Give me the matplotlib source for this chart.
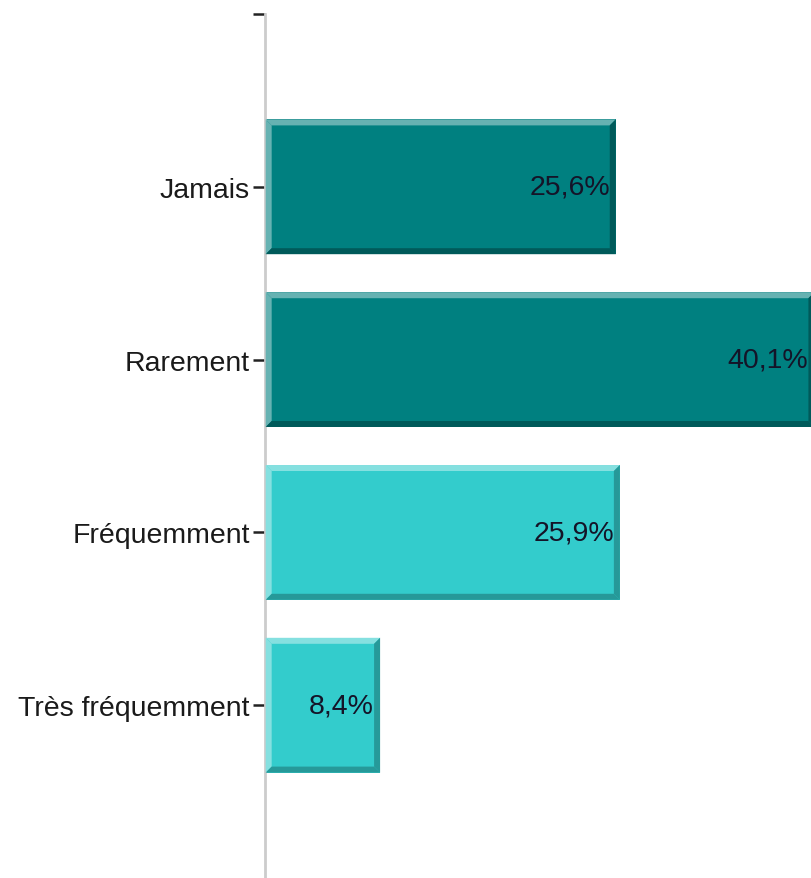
import matplotlib
matplotlib.use("Agg")
import matplotlib.pyplot as plt
from matplotlib.patches import Polygon

categories = ["Jamais", "Rarement", "Fréquemment", "Très fréquemment"]
values = [25.6, 40.1, 25.9, 8.4]
labels = ["25,6%", "40,1%", "25,9%", "8,4%"]

# face, highlight (top/left), shadow (bottom/right)
DARK = ("#008080", "#66b2b2", "#005a5a")
LIGHT = ("#33cccc", "#85e0e0", "#269999")
palette = [DARK, DARK, LIGHT, LIGHT]

plt.rcParams["font.family"] = ["Liberation Sans", "DejaVu Sans"]

W, H = 811, 879
left_px, top_px, plot_h = 265, 15, 864
fig = plt.figure(figsize=(W / 100, H / 100), dpi=100)
ax = fig.add_axes([left_px / W, (H - top_px - plot_h) / H,
                   1 - left_px / W, plot_h / H])

XMAX = 39.85
ax.set_xlim(0, XMAX)
ax.set_ylim(5, 0)

bar_h = 0.78
bev_px = 6
bx = bev_px * XMAX / (W - left_px)
by = bev_px * 5 / plot_h

ypos = list(range(1, len(categories) + 1))
for y, v, lab, (face, hi, sh) in zip(ypos, values, labels, palette):
    x0, x1 = 0.05, v
    y0, y1 = y - bar_h / 2, y + bar_h / 2  # y0 is top (inverted axis)
    ax.barh(y, v - x0, left=x0, height=bar_h, color=face, zorder=2)
    # bevel edges
    ax.add_patch(Polygon([(x0, y0), (x1, y0), (x1 - bx, y0 + by), (x0 + bx, y0 + by)],
                         closed=True, color=hi, lw=0, zorder=3))
    ax.add_patch(Polygon([(x0, y0), (x0 + bx, y0 + by), (x0 + bx, y1 - by), (x0, y1)],
                         closed=True, color=hi, lw=0, zorder=3))
    ax.add_patch(Polygon([(x0, y1), (x0 + bx, y1 - by), (x1 - bx, y1 - by), (x1, y1)],
                         closed=True, color=sh, lw=0, zorder=3))
    ax.add_patch(Polygon([(x1, y0), (x1, y1), (x1 - bx, y1 - by), (x1 - bx, y0 + by)],
                         closed=True, color=sh, lw=0, zorder=3))
    ax.text(v - bx, y, lab, ha="right", va="center", fontsize=20.5,
            color="#141428", zorder=4)

ax.set_yticks([0] + ypos)
ax.set_yticklabels([""] + categories, fontsize=20.5, color="#1a1a1a")
ax.tick_params(axis="y", length=9, width=1.8, color="#222222", pad=2)
ax.set_xticks([])

for s in ["top", "right", "bottom"]:
    ax.spines[s].set_visible(False)
ax.spines["left"].set_color("#cccccc")
ax.spines["left"].set_linewidth(2)

fig.savefig("out.png", dpi=100)
